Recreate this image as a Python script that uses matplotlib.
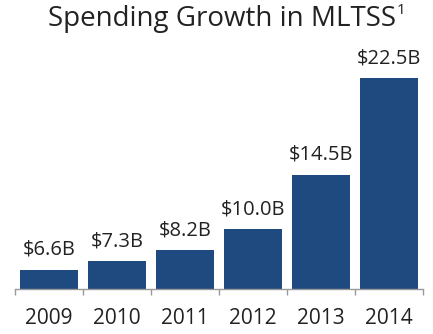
import matplotlib
matplotlib.use("Agg")
import matplotlib.pyplot as plt
import numpy as np

plt.rcParams["font.family"] = ["Open Sans", "DejaVu Sans"]

years = ["2009", "2010", "2011", "2012", "2013", "2014"]
spending = [6.6, 7.3, 8.2, 10.0, 14.5, 22.5]
labels = ["$6.6B", "$7.3B", "$8.2B", "$10.0B", "$14.5B", "$22.5B"]

bar_color = "#1f4a80"
text_color = "#222222"

fig = plt.figure(figsize=(4.33, 3.34), dpi=100)
ax = fig.add_axes([15 / 433, 45 / 334, 408 / 433, 241 / 334])

x = np.arange(len(years))
ax.bar(x, spending, width=0.86, color=bar_color, bottom=0)
ax.set_ylim(5, 25)
ax.set_xlim(-0.5, len(years) - 0.5)

for xi, v, lab in zip(x, spending, labels):
    ax.annotate(lab, (xi, v), xytext=(0, 7), textcoords="offset points",
                ha="center", va="bottom", fontsize=14.5, color=text_color)

# axis: only the baseline with separator ticks between years
for s in ["top", "right", "left"]:
    ax.spines[s].set_visible(False)
ax.spines["bottom"].set_color("#999999")
ax.spines["bottom"].set_linewidth(1.0)
ax.set_yticks([])
ax.set_xticks(x)
ax.set_xticklabels(years, fontsize=15, color=text_color)
ax.tick_params(axis="x", which="major", length=0, pad=14)
ax.set_xticks(np.arange(-0.5, len(years)), minor=True)
ax.tick_params(axis="x", which="minor", length=4, width=1.0, color="#999999", direction="out")

# title with a small footnote marker after it
title = fig.text(222 / 433, 1 - 19 / 334, "Spending Growth in MLTSS", ha="center",
                 va="center", fontsize=20, color=text_color)
fig.canvas.draw()
bb = title.get_window_extent().transformed(fig.transFigure.inverted())
fig.text(bb.x1 + 1 / 433, 1 - 10 / 334, "1", ha="left", va="center",
         fontsize=11, color=text_color)

fig.savefig("out.png", dpi=100)
